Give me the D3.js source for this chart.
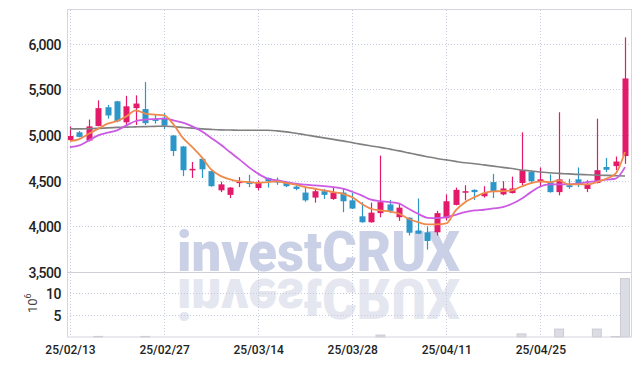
<!DOCTYPE html>
<html>
<head>
<meta charset="utf-8">
<script src="https://cdn.jsdelivr.net/npm/d3@7"></script>
<style>
body { margin: 0; background: #fff; }
svg { display: block; font-family: Roboto, "Liberation Sans", sans-serif; }
</style>
</head>
<body>
<svg id="chart" width="639" height="366"></svg>
<script>
// trading days shown on the chart
const dates = [
  '2025-02-13','2025-02-14','2025-02-17','2025-02-18','2025-02-19','2025-02-20','2025-02-21','2025-02-24','2025-02-25','2025-02-26',
  '2025-02-27','2025-02-28','2025-03-04','2025-03-05','2025-03-06','2025-03-07','2025-03-10','2025-03-11','2025-03-12','2025-03-13',
  '2025-03-14','2025-03-17','2025-03-18','2025-03-19','2025-03-20','2025-03-21','2025-03-24','2025-03-25','2025-03-26','2025-03-27',
  '2025-03-28','2025-03-31','2025-04-01','2025-04-02','2025-04-03','2025-04-04','2025-04-07','2025-04-08','2025-04-09','2025-04-10',
  '2025-04-11','2025-04-14','2025-04-15','2025-04-16','2025-04-17','2025-04-18','2025-04-21','2025-04-22','2025-04-23','2025-04-24',
  '2025-04-25','2025-04-28','2025-04-29','2025-04-30','2025-05-02','2025-05-07','2025-05-08','2025-05-09','2025-05-12','2025-05-13'
];
const open = [4945,5030,4940,5100,5305,5370,5140,5295,5285,5175,
  5190,4995,4875,4615,4740,4605,4395,4345,4480,4490,
  4420,4530,4510,4485,4435,4370,4315,4385,4300,4370,
  4285,4110,4045,4145,4240,4100,4095,3955,3935,3935,
  4090,4235,4370,4400,4330,4485,4350,4365,4475,4595,
  4485,4485,4375,4450,4515,4410,4475,4650,4660,4770];
const high = [5095,5045,5170,5380,5330,5375,5430,5435,5580,5225,
  5240,5000,4880,4705,4745,4610,4490,4430,4540,4565,
  4505,4535,4535,4490,4450,4425,4415,4410,4420,4415,
  4365,4265,4260,4775,4290,4245,4100,4305,4000,4170,
  4350,4425,4450,4405,4440,4575,4495,4545,5030,4615,
  4645,4570,5250,4520,4645,4505,5180,4750,4765,6070];
const low = [4935,4975,4930,5095,5180,5140,5100,5110,5110,5125,
  5065,4770,4550,4530,4530,4435,4375,4310,4430,4430,
  4395,4425,4455,4430,4395,4270,4260,4300,4290,4155,
  4190,4040,4040,4100,4145,4060,3900,3915,3745,3900,
  4065,4230,4285,4290,4315,4310,4340,4360,4450,4465,
  4430,4370,4340,4410,4430,4375,4470,4595,4615,4685];
const close = [4990,4980,5095,5295,5215,5150,5315,5345,5130,5155,
  5105,4825,4615,4630,4625,4440,4460,4425,4490,4465,
  4475,4495,4480,4440,4410,4285,4385,4345,4370,4275,
  4195,4045,4150,4265,4170,4205,3930,3920,3840,4145,
  4275,4400,4385,4375,4365,4385,4415,4415,4615,4495,
  4515,4375,4515,4430,4460,4465,4615,4620,4710,5620];
// volume in millions
const volume = [0,0,0,0.15,0,0,0,0,0.15,0,
  0,0,0,0,0,0,0,0,0,0,
  0,0,0,0,0,0,0,0,0,0,
  0,0,0,0.45,0,0,0,0,0,0,
  0,0,0,0,0,0,0,0,0.7,0,
  0,0,1.8,0,0,0,1.8,0,0.1,13.2];
// moving averages
const ma5 = [4934,4956,5015,5070,5125,5154,5205,5271,5235,5224,
  5216,5117,4969,4868,4758,4624,4553,4514,4492,4485,
  4476,4485,4492,4474,4456,4430,4412,4394,4375,4357,
  4320,4248,4193,4174,4163,4138,4083,4046,4021,4021,
  4032,4174,4265,4320,4364,4383,4386,4394,4437,4474,
  4492,4485,4503,4459,4459,4459,4485,4522,4577,4814];
const ma10 = [4868,4887,4942,4997,5026,5052,5106,5154,5169,5175,
  5180,5161,5137,5095,5041,4969,4896,4814,4734,4649,
  4577,4522,4503,4485,4467,4456,4448,4441,4430,4412,
  4379,4339,4292,4276,4265,4248,4193,4138,4094,4090,
  4101,4127,4156,4174,4182,4196,4210,4248,4303,4375,
  4437,4459,4459,4459,4467,4485,4496,4511,4522,4649];
const maLong = [5068,5068,5070,5073,5079,5084,5087,5090,5093,5095,
  5098,5092,5084,5076,5068,5062,5057,5055,5052,5052,
  5052,5052,5046,5035,5019,5004,4986,4969,4953,4936,
  4917,4898,4881,4865,4846,4827,4805,4783,4763,4744,
  4728,4712,4697,4686,4673,4660,4646,4633,4618,4607,
  4596,4588,4580,4575,4569,4565,4561,4558,4555,4551];
const priceTicks = [3500, 4000, 4500, 5000, 5500, 6000];
const volTicks = [5, 10];
const dateTicks = dates.filter((d, i) => i % 10 === 0);

const plotLeft = 67, plotRight = 631, plotTop = 10, priceBottom = 272, volBottom = 337;
const upColor = '#e3196a', downColor = '#2d96c9';
const gridColor = '#c6cbdd', frameColor = '#d6d6de';

const svg = d3.select('#chart');

const x = d3.scalePoint().domain(dates).range([70, 625]);
const y = d3.scaleLinear().domain([3500, 6370]).range([priceBottom, plotTop]);
const yv = d3.scaleLinear().domain([0, 14.7]).range([volBottom, priceBottom]);

// watermark with reflection
const wm = svg.append('g');
wm.append('text')
  .attr('x', 177).attr('y', 271)
  .attr('textLength', 283).attr('lengthAdjust', 'spacingAndGlyphs')
  .style('font-size', '55px').style('font-weight', 900)
  .attr('fill', '#cad0e6')
  .text('investCRUX');
wm.append('text')
  .attr('transform', 'translate(0,550) scale(1,-1)')
  .attr('x', 177).attr('y', 271)
  .attr('textLength', 283).attr('lengthAdjust', 'spacingAndGlyphs')
  .style('font-size', '55px').style('font-weight', 900)
  .attr('fill', '#e4e6f0')
  .text('investCRUX');

// grid
svg.append('g').selectAll('line')
  .data(priceTicks.filter(d => d > 3500))
  .enter().append('line')
  .attr('x1', plotLeft).attr('x2', plotRight)
  .attr('y1', d => Math.round(y(d)) + 0.5).attr('y2', d => Math.round(y(d)) + 0.5)
  .attr('stroke', gridColor).attr('stroke-dasharray', '1,2');
svg.append('g').selectAll('line')
  .data(volTicks)
  .enter().append('line')
  .attr('x1', plotLeft).attr('x2', plotRight)
  .attr('y1', d => Math.round(yv(d)) + 0.5).attr('y2', d => Math.round(yv(d)) + 0.5)
  .attr('stroke', gridColor).attr('stroke-dasharray', '1,2');
svg.append('g').selectAll('line')
  .data(dateTicks)
  .enter().append('line')
  .attr('x1', d => Math.round(x(d)) + 0.5).attr('x2', d => Math.round(x(d)) + 0.5)
  .attr('y1', plotTop).attr('y2', volBottom)
  .attr('stroke', gridColor).attr('stroke-dasharray', '1,2');

// volume bars
svg.append('g').selectAll('rect')
  .data(dates.map((d, i) => ({d: d, v: volume[i]})).filter(e => e.v > 0))
  .enter().append('rect')
  .attr('x', e => x(e.d) - 4.5)
  .attr('width', 9)
  .attr('y', e => yv(e.v))
  .attr('height', e => volBottom - yv(e.v))
  .attr('fill', '#dcdce4')
  .attr('stroke', '#c4c4ce').attr('stroke-width', 0.8);

// candles
const candles = svg.append('g').selectAll('g')
  .data(dates.map((d, i) => ({d: d, o: open[i], h: high[i], l: low[i], c: close[i]})))
  .enter().append('g');
candles.append('line')
  .attr('x1', e => Math.round(x(e.d)) + 0.5).attr('x2', e => Math.round(x(e.d)) + 0.5)
  .attr('y1', e => y(e.h)).attr('y2', e => y(e.l))
  .attr('stroke', e => e.c >= e.o ? upColor : downColor)
  .attr('stroke-width', 1.2);
candles.append('rect')
  .attr('x', e => Math.round(x(e.d)) - 2.5)
  .attr('width', 6)
  .attr('y', e => y(Math.max(e.o, e.c)))
  .attr('height', e => Math.max(1.5, Math.abs(y(e.o) - y(e.c))))
  .attr('fill', e => e.c >= e.o ? upColor : downColor);

// moving average lines
const lineGen = arr => d3.line()
  .x((d, i) => x(dates[i]))
  .y(d => y(d))
  .curve(d3.curveMonotoneX)(arr);
svg.append('path').attr('d', lineGen(maLong))
  .attr('fill', 'none').attr('stroke', '#808080').attr('stroke-width', 1.6);
svg.append('path').attr('d', lineGen(ma10))
  .attr('fill', 'none').attr('stroke', '#cc5ae4').attr('stroke-width', 1.8);
svg.append('path').attr('d', lineGen(ma5))
  .attr('fill', 'none').attr('stroke', '#ef8a4c').attr('stroke-width', 1.8);

// frame and panel separator
svg.append('rect')
  .attr('x', plotLeft + 0.5).attr('y', plotTop - 0.5)
  .attr('width', plotRight - plotLeft).attr('height', volBottom - plotTop + 0.5)
  .attr('fill', 'none').attr('stroke', frameColor);
svg.append('line')
  .attr('x1', plotLeft).attr('x2', plotRight)
  .attr('y1', priceBottom + 0.5).attr('y2', priceBottom + 0.5)
  .attr('stroke', '#cfcfd8');

// axes
const yAxis = svg.append('g')
  .attr('transform', `translate(${plotLeft - 6},0)`)
  .call(d3.axisLeft(y).tickValues(priceTicks).tickSize(0).tickFormat(d3.format(',')));
const vAxis = svg.append('g')
  .attr('transform', `translate(${plotLeft - 6},0)`)
  .call(d3.axisLeft(yv).tickValues(volTicks).tickSize(0));
[yAxis, vAxis].forEach(g => {
  g.select('.domain').remove();
  g.selectAll('text')
    .attr('x', 0).attr('dy', '0.38em')
    .style('font-family', 'Roboto, sans-serif')
    .style('font-size', '14px').style('font-weight', 500)
    .style('letter-spacing', '-0.5px')
    .attr('fill', '#222');
});

const xAxis = svg.append('g')
  .attr('transform', `translate(0,${volBottom})`)
  .call(d3.axisBottom(x).tickValues(dateTicks).tickSize(0)
    .tickFormat(d => d.slice(2).replace(/-/g, '/')));
xAxis.select('.domain').remove();
xAxis.selectAll('text')
  .attr('y', 8).attr('dy', '0.71em')
  .style('font-family', 'Roboto, sans-serif')
  .style('font-size', '12px').style('font-weight', 500)
  .attr('fill', '#222');

// volume unit label
const unit = svg.append('text')
  .attr('transform', 'translate(37,313) rotate(-90)')
  .style('font-size', '13px')
  .attr('fill', '#444');
unit.append('tspan').text('10');
unit.append('tspan').attr('dy', -6).style('font-size', '9px').text('6');
</script>
</body>
</html>
